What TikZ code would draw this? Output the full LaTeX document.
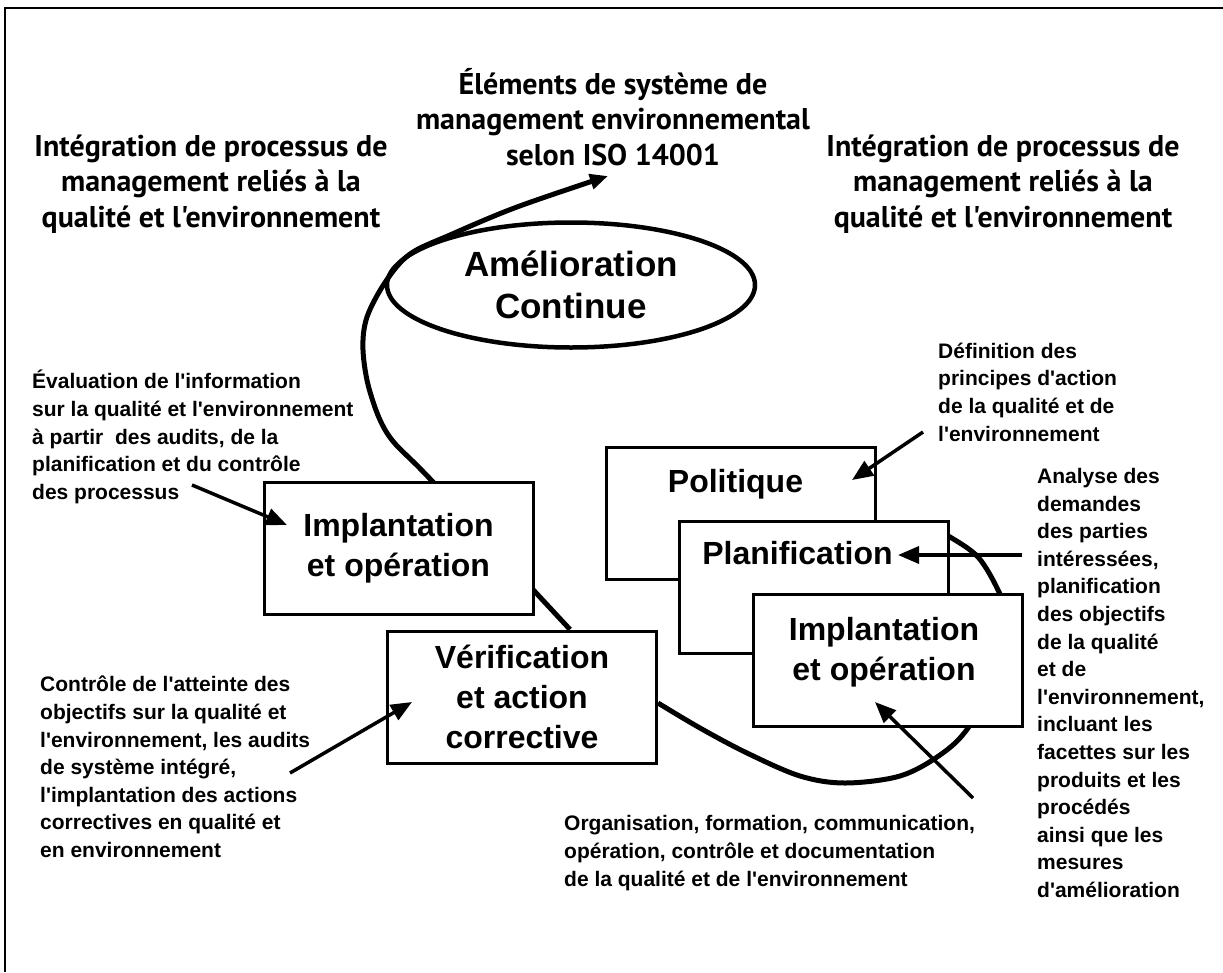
\documentclass[tikz,border=0pt]{standalone}
\usepackage{fontspec}
\setmainfont{Liberation Sans}
\newfontfamily\headfont{PT Sans}
\newcommand{\apo}{\textquotesingle}
\usetikzlibrary{arrows.meta}
\usetikzlibrary{shapes}
\usetikzlibrary{positioning}
\usetikzlibrary{calc}
\usetikzlibrary{backgrounds}

\begin{document}
\begin{tikzpicture}[x=1pt,y=-1pt,
    box/.style={draw,line width=3pt,fill=white,minimum width=269pt,minimum height=132pt},
    boxtext/.style={font=\fontsize{32}{40}\selectfont\bfseries,align=center,inner sep=0pt},
    note/.style={font=\fontsize{21}{27.6}\selectfont\bfseries,align=left,inner sep=0pt,anchor=west},
    headline/.style={font=\headfont\fontsize{30}{35.5}\selectfont\bfseries,align=center,inner sep=0pt},
    loopline/.style={line width=5pt},
    pointer/.style={line width=3.5pt,-{Triangle[length=21pt,width=17pt]}}]
  \useasboundingbox (0,0) rectangle (1223,972);
  \draw[line width=2pt] (5,972) -- (5,8) -- (1223,8);

  % headings
  \node[headline] (headL) at (211,184) {Intégration de processus de\\management reliés à la\\qualité et l'environnement};
  \node[headline] (headM) at (613,117) {Éléments de système de\\management environnemental\\selon ISO 14001};
  \node[headline] (headR) at (1003,184) {Intégration de processus de\\management reliés à la\\qualité et l'environnement};

  \node[draw,ellipse,line width=4.5pt,minimum width=368pt,minimum height=125pt,
        font=\fontsize{35}{42}\selectfont\bfseries,align=center] (amelio) at (571,285) {Amélioration\\Continue};

  % boxes
  \node[box] (impl) at (398.5,548.5) {};
  \node[boxtext] (implT) at (impl) {Implantation\\et opération};
  \node[box] (verif) at (522,697) {};
  \node[boxtext] (verifT) at (verif) {Vérification\\et action\\corrective};
  \node[box] (polit) at (740.5,513) {};
  \node[boxtext,below=24pt of polit.north,xshift=-5pt] (politT) {Politique};
  \node[box] (planif) at (813.5,587.5) {};
  \node[boxtext,below=21pt of planif.north,xshift=-16pt] (planifT) {Planification};
  \node[box] (implR) at (888,660.5) {};
  \node[boxtext] (implRT) at ($(implR)+(-4,-8)$) {Implantation\\et opération};

  % cycle lines behind the boxes
  \begin{scope}[on background layer]
    \draw[loopline,-{Triangle[length=18pt,width=15pt]}] plot[smooth,tension=0.55] coordinates
      {($(verif.north)+(48,0)$) (433,482) (389,436) (370,392) (363,350) (367,317) (386,281) (410,254) (450,235) (517,207) (608,176)};
    \draw[loopline] plot[smooth,tension=0.55] coordinates
      {($(verif.east)+(0,6)$) (700,728) (747,753) (800,776) (845,783) (900,776) (940,755) (968,728)
       (1000,670) (1008,620) (998,590) (978,557) (950,537) (936,531)};
  \end{scope}

  % notes
  \node[note] (evalN) at (32,437) {Évaluation de l\apo information\\sur la qualité et l\apo environnement\\à partir\ \ des audits, de la\\planification et du contrôle\\des processus};
  \node[note] (ctrlN) at (40,767) {Contrôle de l\apo atteinte des\\objectifs sur la qualité et\\l\apo environnement, les audits\\de système intégré,\\l\apo implantation des actions\\correctives en qualité et\\en environnement};
  \node[note] (definN) at (938,392) {Définition des\\principes d\apo action\\de la qualité et de\\l\apo environnement};
  \node[note] (analyseN) at (1037,683) {Analyse des\\demandes\\des parties\\intéressées,\\planification\\des objectifs\\de la qualité\\et de\\l\apo environnement,\\incluant les\\facettes sur les\\produits et les\\procédés\\ainsi que les\\mesures\\d\apo amélioration};
  \node[note] (organN) at (564,853) {Organisation, formation, communication,\\opération, contrôle et documentation\\de la qualité et de l\apo environnement};

  % pointers
  \coordinate (evalTail) at (192,485);
  \coordinate (evalTip) at (287,525);
  \coordinate (ctrlTail) at (290,773);
  \coordinate (ctrlTip) at (412,702);
  \coordinate (definTail) at (923,432);
  \coordinate (definTip) at (852,480);
  \coordinate (analyseTail) at (1022,555);
  \coordinate (analyseTip) at (898,555);
  \coordinate (organTail) at (973,798);
  \coordinate (organTip) at (875,702);
  \draw[pointer] (evalTail) -- (evalTip);
  \draw[pointer] (ctrlTail) -- (ctrlTip);
  \draw[pointer] (definTail) -- (definTip);
  \draw[pointer] (analyseTail) -- (analyseTip);
  \draw[pointer] (organTail) -- (organTip);
\end{tikzpicture}
\end{document}
